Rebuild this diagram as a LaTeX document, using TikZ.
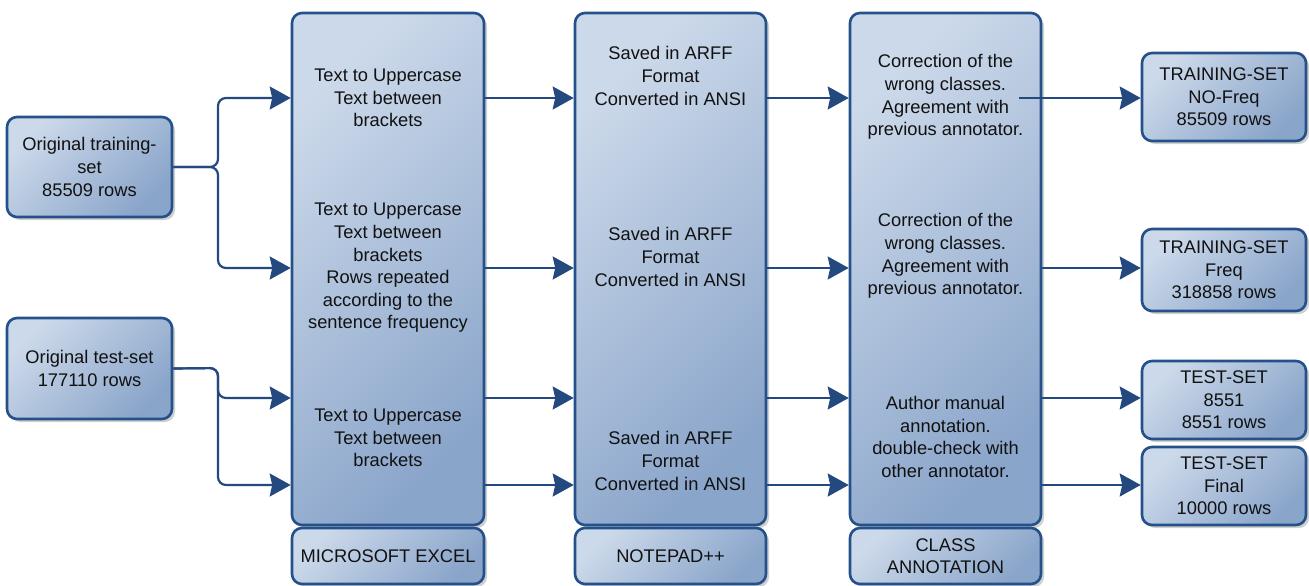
\documentclass[tikz,border=0pt]{standalone}
\usepackage{fontspec}
\setmainfont{Liberation Sans}
\usetikzlibrary{arrows.meta,shadows}
\definecolor{bord}{HTML}{25518A}
\definecolor{lite}{HTML}{CCD9EA}
\definecolor{dark}{HTML}{8AA5CA}
\definecolor{arrc}{HTML}{24497F}
\definecolor{txt}{HTML}{111111}
\newcommand{\myfs}{\fontsize{18.3pt}{22.6pt}\selectfont}
\begin{document}
\begin{tikzpicture}[x=1pt,y=-1pt,
  box/.style={draw=bord, line width=2.6pt, rounded corners=10pt,
    top color=lite, bottom color=dark, shading angle=45,
    drop shadow={shadow xshift=3pt,shadow yshift=-3pt,opacity=0.3,fill=black!60},
    inner sep=0pt, align=center, font=\myfs, text=txt},
  lbl/.style={align=center, font=\myfs, text=txt, inner sep=0pt},
  arr/.style={draw=arrc, line width=2.2pt, -{Stealth[length=21pt,width=23pt,inset=2.5pt]}},
  brace/.style={arr, rounded corners=8pt}]
\useasboundingbox[fill=white] (0,0) rectangle (1309,586);

% row coordinates
\coordinate (r1) at (0,98);
\coordinate (r2) at (0,268);
\coordinate (r3) at (0,398);
\coordinate (r4) at (0,485);

% input boxes
\node[box, minimum width=165pt, minimum height=100pt] (train) at (89.5,167) {Original training-\\set\\85509 rows};
\node[box, minimum width=165pt, minimum height=101pt] (test) at (89.5,368.5) {Original test-set\\177110 rows};

% columns
\node[box, minimum width=192pt, minimum height=512pt] (c1) at (388,269) {};
\node[box, minimum width=191pt, minimum height=512pt] (c2) at (670.5,269) {};
\node[box, minimum width=191pt, minimum height=512pt] (c3) at (945.5,269) {};

% column labels
\node[box, minimum width=192pt, minimum height=56pt] (l1) at (388,556) {MICROSOFT EXCEL};
\node[box, minimum width=191pt, minimum height=56pt] (l2) at (670.5,556) {NOTEPAD++};
\node[box, minimum width=191pt, minimum height=56pt] (l3) at (945.5,556) {CLASS\\ANNOTATION};

% column texts
\node[lbl] (t11) at (388,98) {Text to Uppercase\\Text between\\brackets};
\node[lbl] (t12) at (388,268) {Text to Uppercase\\Text between\\brackets\\Rows repeated\\according to the\\sentence frequency};
\node[lbl] (t13) at (388,438) {Text to Uppercase\\Text between\\brackets};
\node[lbl] (t21) at (670.5,76) {Saved in ARFF\\Format\\Converted in ANSI};
\node[lbl] (t22) at (670.5,257) {Saved in ARFF\\Format\\Converted in ANSI};
\node[lbl] (t23) at (670.5,461) {Saved in ARFF\\Format\\Converted in ANSI};
\node[lbl] (t31) at (945.5,97) {Correction of the\\wrong classes.\\Agreement with\\previous annotator.};
\node[lbl] (t32) at (945.5,256) {Correction of the\\wrong classes.\\Agreement with\\previous annotator.};
\node[lbl] (t33) at (945.5,437) {Author manual\\annotation.\\double-check with\\other annotator.};

% output boxes
\node[box, minimum width=164pt, minimum height=88pt] (o1) at (1224,97) {TRAINING-SET\\NO-Freq\\85509 rows};
\node[box, minimum width=164pt, minimum height=82pt] (o2) at (1224,270) {TRAINING-SET\\Freq\\318858 rows};
\node[box, minimum width=164pt, minimum height=78pt] (o3) at (1224,400) {TEST-SET\\8551\\8551 rows};
\node[box, minimum width=164pt, minimum height=78pt] (o4) at (1224,486) {TEST-SET\\Final\\10000 rows};

% input connectors
\draw[brace] (train.east) -- (218,167) -- (218,98) -- (c1.west |- r1);
\draw[brace] (train.east) -- (218,167) -- (218,268) -- (c1.west |- r2);
\draw[brace] (test.east) -- (218,368) -- (218,398) -- (c1.west |- r3);
\draw[brace] (test.east) -- (218,368) -- (218,485) -- (c1.west |- r4);

% column to column
\foreach \r in {r1,r2,r3,r4}{
  \draw[arr] (c1.east |- \r) -- (c2.west |- \r);
  \draw[arr] (c2.east |- \r) -- (c3.west |- \r);
}

% column 3 to outputs
\coordinate (s1) at (1019,98);
\draw[arr] (s1) -- (o1.west |- s1);
\draw[arr] (c3.east |- r2) -- (o2.west |- r2);
\draw[arr] (c3.east |- r3) -- (o3.west |- r3);
\draw[arr] (c3.east |- r4) -- (o4.west |- r4);
\end{tikzpicture}
\end{document}
